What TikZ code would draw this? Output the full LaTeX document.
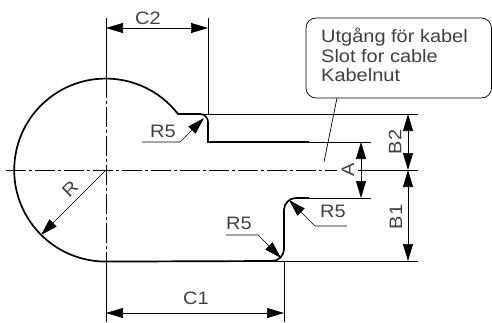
\documentclass[tikz,border=0pt]{standalone}
\usepackage{fontspec}
\setmainfont{Liberation Sans}[FakeStretch=1.11]
\usetikzlibrary{arrows.meta}
\tikzset{
	contour/.style={line width=1.7pt},
	thin line/.style={line width=0.7pt},
	axis line/.style={line width=0.7pt,dash pattern=on 20pt off 3pt on 3pt off 3pt},
	dim/.style={line width=0.7pt,{Triangle[length=17pt,width=10pt]}-{Triangle[length=17pt,width=10pt]}},
	leader/.style={line width=0.7pt,-{Triangle[length=17pt,width=10pt]}},
	dimlabel/.style={font=\fontsize{18}{19.5}\selectfont,text=black!75,inner sep=0pt}
}
\begin{document}
\begin{tikzpicture}[x=1pt,y=1pt]
	\useasboundingbox (0,0) rectangle (492,322);
	% contour
	\draw[contour] (309,180) -- (208,180) -- (208,200) arc (0:90:8) -- (178,208) arc (37.8:270:91.5) -- (272,61) arc (-90:0:12) -- (284,112) arc (180:90:12) -- (309,124);
	% axes
	\draw[axis line] (6,152) -- (337,152);
	\draw[axis line] (106,244) -- (106,61);
	% extension lines
	\draw[thin line] (106,304) -- (106,244);
	\draw[thin line] (106,61) -- (106,0);
	\draw[thin line] (208,304) -- (208,208);
	\draw[thin line] (284,61) -- (284,0);
	\draw[thin line] (200,208) -- (418,208);
	\draw[thin line] (309,180) -- (371,180);
	\draw[thin line] (358,152) -- (418,152);
	\draw[thin line] (309,124) -- (371,124);
	\draw[thin line] (272,61) -- (418,61);
	% dimensions
	\draw[dim] (106,294) -- (208,294);
	\node[dimlabel] (c2) at (148,304) {C2};
	\draw[dim] (106,9) -- (284,9);
	\node[dimlabel] (c1) at (196,24) {C1};
	\draw[dim] (408,208) -- (408,152);
	\draw[dim] (408,152) -- (408,61);
	\node[dimlabel,rotate=90] (b2) at (395,180) {B2};
	\node[dimlabel,rotate=90] (b1) at (396,105) {B1};
	\draw[dim] (361,180) -- (361,124);
	\node[dimlabel,rotate=90] (a) at (348,152) {A};
	% radii
	\draw[leader] (106,152) -- (41,87);
	\node[dimlabel,rotate=45] (r) at (70,133) {R};
	\draw[leader] (142,180) -- (180,180) -- (204,204);
	\node[dimlabel] (r5a) at (163,191) {R5};
	\draw[leader] (226,87) -- (258,87) -- (281,64);
	\node[dimlabel] (r5b) at (239,99) {R5};
	\draw[leader] (347,96) -- (315,96) -- (289,122);
	\node[dimlabel] (r5c) at (333,111) {R5};
	% slot note
	\draw[thin line,rounded corners=10pt] (306,304) rectangle (491.5,224);
	\node[dimlabel,align=left,anchor=north west] (notetext) at (321,294) {Utgång för kabel\\Slot for cable\\Kabelnut};
	\draw[thin line] (337,224) -- (324,160);
\end{tikzpicture}
\end{document}
